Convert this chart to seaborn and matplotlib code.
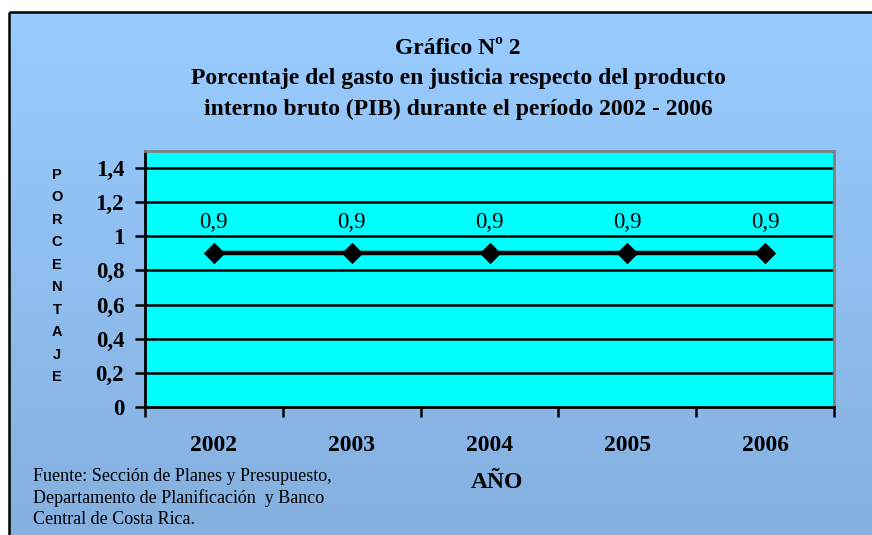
import numpy as np
import pandas as pd
import matplotlib
matplotlib.use("Agg")
import matplotlib.pyplot as plt
import seaborn as sns

years = ["2002", "2003", "2004", "2005", "2006"]
values = [0.9, 0.9, 0.9, 0.9, 0.9]
value_labels = ["0,9", "0,9", "0,9", "0,9", "0,9"]
y_ticks = [0, 0.2, 0.4, 0.6, 0.8, 1.0, 1.2, 1.4]
y_tick_labels = ["0", "0,2", "0,4", "0,6", "0,8", "1", "1,2", "1,4"]
title = ("Gráfico Nº 2\nPorcentaje del gasto en justicia respecto del producto\n"
         "interno bruto (PIB) durante el período 2002 - 2006")
source = ("Fuente: Sección de Planes y Presupuesto,\n"
          "Departamento de Planificación  y Banco\nCentral de Costa Rica.")
ylabel = "PORCENTAJE"
xlabel = "AÑO"

sns.set_theme(style="white")
plt.rcParams['font.family'] = ['Liberation Serif', 'DejaVu Serif']
plt.rcParams['text.color'] = 'black'
plt.rcParams['xtick.color'] = 'black'
plt.rcParams['ytick.color'] = 'black'
plt.rcParams['axes.labelcolor'] = 'black'

W, H = 872, 535
fig = plt.figure(figsize=(W / 100, H / 100), dpi=100)
fig.patch.set_facecolor("white")

# background gradient
bg = fig.add_axes([0, 0, 1, 1], zorder=-10)
top_c = np.array([153, 204, 255]) / 255
bot_c = np.array([133, 176, 224]) / 255
t = np.linspace(0, 1, 256)[:, None]
grad = (top_c[None, :] * (1 - t) + bot_c[None, :] * t)[:, None, :]
y_top = 1 - 12 / H
bg.imshow(grad, aspect="auto", extent=[9 / W, 1, 0, y_top], origin="upper")
bg.set_xlim(0, 1)
bg.set_ylim(0, 1)
bg.axis("off")
bg.plot([9 / W, 9 / W], [0, y_top], color="black", lw=1.8, solid_capstyle="butt")
bg.plot([9 / W, 1], [y_top, y_top], color="black", lw=1.8, solid_capstyle="butt")

# plot area
l, r, tp, b = 145, 834, 151, 407
ax = fig.add_axes([l / W, 1 - b / H, (r - l) / W, (b - tp) / H])
ax.set_facecolor("#00FFFF")

df = pd.DataFrame({"year": years, "value": values})
sns.lineplot(data=df, x="year", y="value", ax=ax, color="black", lw=3.2,
             marker="D", markersize=10, markeredgecolor="black", zorder=5)

ax.set_ylim(0, 1.5)
ax.set_xlim(-0.5, len(years) - 0.5)
ax.set_yticks(y_ticks)
ax.set_yticklabels(y_tick_labels, fontsize=16.5, fontweight="bold")
for yv in y_ticks[1:]:
    ax.axhline(yv, color="black", lw=1.8, zorder=1)

ax.set_xticks(np.arange(-0.5, len(years), 1.0))
ax.set_xticklabels([])
ax.set_xticks(range(len(years)), minor=True)
ax.set_xticklabels(years, minor=True, fontsize=17, fontweight="bold")
ax.tick_params(axis="x", which="minor", length=0, pad=20)
ax.tick_params(axis="x", which="major", length=7, width=1.8, direction="out", color="black", bottom=True)
ax.tick_params(axis="y", length=7, width=1.8, direction="out", color="black", left=True, pad=8)
ax.set_xlabel("")
ax.set_ylabel("")

for s in ["left", "bottom"]:
    ax.spines[s].set_color("black")
    ax.spines[s].set_linewidth(2)
for s in ["top", "right"]:
    ax.spines[s].set_color("#808080")
    ax.spines[s].set_linewidth(2)

for i, (v, lab) in enumerate(zip(values, value_labels)):
    ax.annotate(lab, (i, v), xytext=(0, 22), textcoords="offset points",
                ha="center", va="center", fontsize=16.5, color="black")

fig.text(458 / W, 1 - 79 / H, title, ha="center", va="center", fontsize=17,
         fontweight="bold", linespacing=1.58, color="black")
fig.text(57 / W, 1 - 276 / H, "\n".join(ylabel), ha="center", va="center",
         fontsize=10.5, fontweight="bold", family=["Liberation Sans", "DejaVu Sans"],
         linespacing=1.77, color="black")
fig.text(497 / W, 1 - 482 / H, xlabel, ha="center", va="center", fontsize=17,
         fontweight="bold", color="black")
fig.text(33 / W, 1 - 498 / H, source, ha="left", va="center", fontsize=13,
         linespacing=1.3, color="black")

fig.savefig("out.png", dpi=100, facecolor=fig.get_facecolor())
